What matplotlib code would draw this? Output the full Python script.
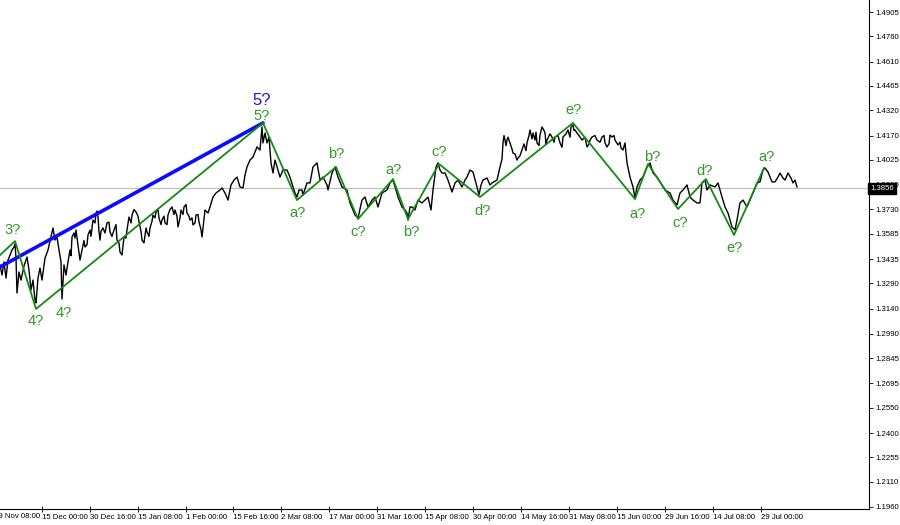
import matplotlib
matplotlib.use("Agg")
import matplotlib.pyplot as plt
import matplotlib.transforms as mtransforms

# price series (time index along the chart, close price)
bar_x = [0, 2, 4, 6, 8, 10, 12, 14, 15, 16, 17, 19, 21, 24, 27, 29, 31, 33, 35, 36,
         38, 40, 42, 45, 48, 51, 53, 55, 57, 59, 61, 62, 64, 66, 68, 70, 72, 74, 76, 78,
         80, 82, 85, 88, 90, 93, 96, 98, 100, 103, 107, 110, 114, 117, 120, 122, 124, 127, 129, 132,
         136, 139, 142, 144, 147, 150, 153, 156, 159, 162, 165, 168, 172, 175, 178, 181, 184, 187, 190, 193,
         196, 199, 202, 205, 208, 210, 213, 216, 220, 222, 225, 228, 231, 234, 237, 240, 243, 245, 247, 250,
         253, 255, 257, 260, 262, 263, 265, 267, 269, 271, 273, 275, 277, 280, 283, 287, 290, 293, 295, 297,
         299, 302, 303, 307, 310, 313, 317, 320, 323, 327, 328, 332, 335, 338, 342, 347, 350, 353, 355, 357,
         358, 362, 365, 368, 372, 375, 378, 382, 387, 390, 393, 396, 398, 402, 405, 407, 408, 410, 412, 415,
         418, 422, 425, 428, 431, 433, 436, 438, 440, 442, 445, 448, 452, 455, 458, 462, 465, 467, 470, 473,
         477, 479, 481, 483, 487, 490, 492, 497, 500, 503, 505, 507, 510, 513, 517, 518, 522, 527, 530, 533,
         535, 537, 540, 542, 545, 547, 552, 555, 560, 563, 568, 571, 573, 575, 577, 582, 587, 590, 592, 597,
         602, 605, 607, 610, 612, 615, 618, 621, 623, 625, 627, 630, 633, 635, 637, 640, 643, 647, 650, 653,
         657, 660, 663, 665, 670, 673, 677, 680, 683, 687, 690, 693, 697, 700, 702, 705, 707, 710, 715, 718,
         722, 725, 728, 730, 732, 735, 737, 740, 743, 747, 750, 753, 757, 760, 763, 765, 768, 772, 775, 778,
         780, 783, 785, 788, 791, 793, 795, 797]
close = [1.3400, 1.3340, 1.3418, 1.3322, 1.3429, 1.3459, 1.3489, 1.3507, 1.3525, 1.3441,
         1.3233, 1.3358, 1.3310, 1.3394, 1.3447, 1.3370, 1.3251, 1.3310, 1.3191, 1.3174,
         1.3322, 1.3382, 1.3310, 1.3441, 1.3489, 1.3566, 1.3620, 1.3548, 1.3566, 1.3489,
         1.3418, 1.3197, 1.3400, 1.3340, 1.3418, 1.3489, 1.3566, 1.3590, 1.3608, 1.3519,
         1.3429, 1.3489, 1.3507, 1.3578, 1.3608, 1.3667, 1.3709, 1.3685, 1.3548, 1.3620,
         1.3650, 1.3596, 1.3608, 1.3548, 1.3477, 1.3459, 1.3566, 1.3608, 1.3685, 1.3697,
         1.3715, 1.3656, 1.3548, 1.3531, 1.3596, 1.3620, 1.3697, 1.3715, 1.3679, 1.3667,
         1.3650, 1.3697, 1.3745, 1.3727, 1.3626, 1.3727, 1.3745, 1.3709, 1.3667, 1.3638,
         1.3697, 1.3656, 1.3566, 1.3727, 1.3709, 1.3745, 1.3804, 1.3828, 1.3846, 1.3858,
         1.3828, 1.3786, 1.3876, 1.3905, 1.3923, 1.3864, 1.3858, 1.3935, 1.3983, 1.4024,
         1.4042, 1.4072, 1.4102, 1.4084, 1.4221, 1.4126, 1.4185, 1.4126, 1.4161, 1.4007,
         1.3947, 1.4024, 1.3983, 1.3923, 1.3965, 1.3965, 1.3923, 1.3864, 1.3828, 1.3804,
         1.3846, 1.3846, 1.3816, 1.3888, 1.3888, 1.3983, 1.4007, 1.3905, 1.3923, 1.3876,
         1.3846, 1.3947, 1.3983, 1.3923, 1.3864, 1.3846, 1.3769, 1.3727, 1.3697, 1.3685,
         1.3679, 1.3786, 1.3804, 1.3745, 1.3786, 1.3804, 1.3745, 1.3828, 1.3846, 1.3888,
         1.3905, 1.3846, 1.3804, 1.3745, 1.3727, 1.3709, 1.3667, 1.3745, 1.3745, 1.3727,
         1.3786, 1.3769, 1.3786, 1.3804, 1.3727, 1.3846, 1.3983, 1.4007, 1.3965, 1.3947,
         1.3947, 1.3905, 1.3834, 1.3888, 1.3905, 1.3864, 1.3905, 1.3923, 1.3965, 1.3953,
         1.3864, 1.3816, 1.3876, 1.3905, 1.3917, 1.3876, 1.3888, 1.3905, 1.3983, 1.4126,
         1.4143, 1.4143, 1.4126, 1.4066, 1.4024, 1.4036, 1.4084, 1.4126, 1.4203, 1.4185,
         1.4143, 1.4126, 1.4173, 1.4221, 1.4185, 1.4143, 1.4161, 1.4161, 1.4126, 1.4161,
         1.4203, 1.4221, 1.4233, 1.4203, 1.4185, 1.4143, 1.4102, 1.4143, 1.4161, 1.4143,
         1.4161, 1.4126, 1.4102, 1.4173, 1.4161, 1.4143, 1.4114, 1.4096, 1.4084, 1.4126,
         1.4007, 1.3923, 1.3864, 1.3798, 1.3864, 1.3905, 1.3923, 1.3983, 1.4007, 1.3947,
         1.3923, 1.3894, 1.3864, 1.3846, 1.3828, 1.3786, 1.3757, 1.3828, 1.3846, 1.3876,
         1.3804, 1.3786, 1.3769, 1.3769, 1.3888, 1.3905, 1.3846, 1.3876, 1.3864, 1.3888,
         1.3804, 1.3745, 1.3709, 1.3667, 1.3626, 1.3608, 1.3667, 1.3769, 1.3786, 1.3745,
         1.3786, 1.3828, 1.3888, 1.3894, 1.3965, 1.3977, 1.3953, 1.3894, 1.3894, 1.3923,
         1.3947, 1.3917, 1.3905, 1.3947, 1.3917, 1.3888, 1.3905, 1.3864]

# extra intrabar swings read in the noisiest stretches (Dec-Jan, May)
swing_x = [71, 75, 79, 84, 87, 91, 95, 97, 99, 101, 105, 109, 112, 116, 119, 126, 131, 134, 138, 141,
           146, 149, 152, 155, 158, 161, 164, 167, 170, 174, 177, 180, 183, 186, 189, 192, 195, 198, 201,
           502, 504, 506, 508, 512, 515, 520, 524, 526, 529, 532, 536, 539, 544, 546, 550, 554, 558, 562,
           566, 570, 574, 579, 585, 589, 595, 600, 604, 609, 614, 620]
swing_y = [1.3455, 1.3560, 1.3470, 1.3545, 1.3520, 1.3570, 1.3650, 1.3720, 1.3600, 1.3600,
           1.3590, 1.3655, 1.3570, 1.3640, 1.3530, 1.3560, 1.3650, 1.3730, 1.3690, 1.3600,
           1.3620, 1.3570, 1.3660, 1.3680, 1.3730, 1.3640, 1.3690, 1.3640, 1.3730, 1.3700,
           1.3690, 1.3680, 1.3700, 1.3760, 1.3690, 1.3680, 1.3650, 1.3700, 1.3610,
           1.4030, 1.4170, 1.4110, 1.4160, 1.4090, 1.4060, 1.4050, 1.4120, 1.4080, 1.4170,
           1.4150, 1.4190, 1.4110, 1.4200, 1.4120, 1.4180, 1.4130, 1.4170, 1.4100, 1.4180,
           1.4160, 1.4200, 1.4170, 1.4160, 1.4120, 1.4170, 1.4130, 1.4170, 1.4120, 1.4170,
           1.4130]

last_price = 1.3856

# wave count (green zigzag)
wave_x = [0, 15, 36, 263, 297, 336, 358, 393, 408, 439, 480, 573, 635, 648, 678, 706, 734, 764]
wave_y = [1.3459, 1.3542, 1.3138, 1.4245, 1.3786, 1.3983, 1.3673, 1.3911, 1.3673, 1.4001,
          1.3804, 1.4245, 1.3792, 1.4001, 1.3733, 1.3911, 1.3578, 1.3977]
wave_labels = ["", "3?", "4?", "5?", "a?", "b?", "c?", "a?", "b?", "c?", "d?", "e?",
               "a?", "b?", "c?", "d?", "e?", "a?"]
# label offsets in points
wave_offsets = [(0, 0), (-1.5, 8), (-0.5, -9), (-0.7, 5), (0, -9.5), (0, 9.5), (0, -9.5),
                (0, 6.5), (2, -9.5), (0, 8.5), (2, -10), (0.7, 9.5), (1.5, -11), (3, 5),
                (1.5, -10), (-0.7, 6), (0.7, -9), (1.5, 8)]

# higher degree count (blue)
blue_x = [0, 263]
blue_y = [1.3388, 1.4245]

# axis labels
y_ticks = [1.4905, 1.4760, 1.4610, 1.4465, 1.4320, 1.4170, 1.4025, 1.3880, 1.3730, 1.3585,
           1.3435, 1.3290, 1.3140, 1.2990, 1.2845, 1.2695, 1.2550, 1.2400, 1.2255, 1.2110, 1.1960]
x_tick_pos = [42, 90, 138, 186, 233, 281, 329, 377, 425, 473, 521, 569, 617, 665, 713, 761]
x_tick_labels = ["15 Dec 00:00", "30 Dec 16:00", "15 Jan 08:00", "1 Feb 00:00", "15 Feb 16:00",
                 "2 Mar 08:00", "17 Mar 00:00", "31 Mar 16:00", "15 Apr 08:00", "30 Apr 00:00",
                 "14 May 16:00", "31 May 08:00", "15 Jun 00:00", "29 Jun 16:00", "14 Jul 08:00",
                 "29 Jul 00:00"]

plt.rcParams['font.family'] = ['Liberation Sans', 'DejaVu Sans']

GREEN_LINE = '#138a13'
GREEN_TEXT = '#2f9a22'

# merge the swings into the close series
pts = sorted(zip(bar_x + swing_x, close + swing_y))
px = [p[0] for p in pts]
py = [p[1] for p in pts]

fig = plt.figure(figsize=(9, 5.25), dpi=100)
ax = fig.add_axes([0, 16 / 525, 869 / 900, 509 / 525])
ax.set_xlim(0, 869)
ax.set_ylim(1.19479, 1.49764)

# current price line
ax.axhline(last_price, color='#c0c0c0', lw=0.9, zorder=1)

ax.plot(px, py, color='black', lw=1.0, zorder=3)
ax.plot(blue_x, blue_y, color='#0a0aff', lw=2.6, zorder=4, solid_capstyle='round')
ax.plot(wave_x, wave_y, color=GREEN_LINE, lw=1.3, zorder=5)

for x, y, lbl, off in zip(wave_x, wave_y, wave_labels, wave_offsets):
    if lbl:
        ax.annotate(lbl, (x, y), xytext=off, textcoords='offset points',
                    ha='center', va='center', fontsize=10.5, color=GREEN_TEXT, zorder=6)

# second 4? under the spike low
i_low = close.index(min(close[25:40]))
ax.annotate("4?", (bar_x[i_low], close[i_low]), xytext=(1.5, -10), textcoords='offset points',
            ha='center', va='center', fontsize=10.5, color=GREEN_TEXT)
ax.annotate("5?", (blue_x[1], blue_y[1]), xytext=(-0.7, 16), textcoords='offset points',
            ha='center', va='center', fontsize=12, color='#1a1ae6')

# axes styling, MT4-like
for s in ['left', 'top']:
    ax.spines[s].set_visible(False)
ax.spines['right'].set_linewidth(0.8)
ax.spines['bottom'].set_linewidth(0.8)

ax.yaxis.tick_right()
ax.set_yticks(y_ticks)
ax.set_yticklabels([f"{v:.4f}" for v in y_ticks])
ax.tick_params(axis='y', direction='out', length=3, width=0.6, pad=1.5, labelsize=5.6)

ax.set_xticks(x_tick_pos)
ax.set_xticklabels(x_tick_labels, ha='left')
ax.tick_params(axis='x', direction='inout', length=4, width=0.6, pad=1.5, labelsize=5.6)

# partly hidden first date label at the left edge
trans = mtransforms.blended_transform_factory(ax.transData, ax.transAxes)
ax.text(-6, -0.008, "29 Nov 08:00", transform=trans, ha='left', va='top', fontsize=5.6,
        clip_on=False)

# current price tag on the scale
ax.text(1.0015, last_price, "1.3856", transform=ax.get_yaxis_transform(), ha='left', va='center',
        fontsize=5.6, color='white', zorder=10,
        bbox=dict(boxstyle='square,pad=0.25', facecolor='black', edgecolor='black'))

fig.savefig("out.png", dpi=100, facecolor='white')
